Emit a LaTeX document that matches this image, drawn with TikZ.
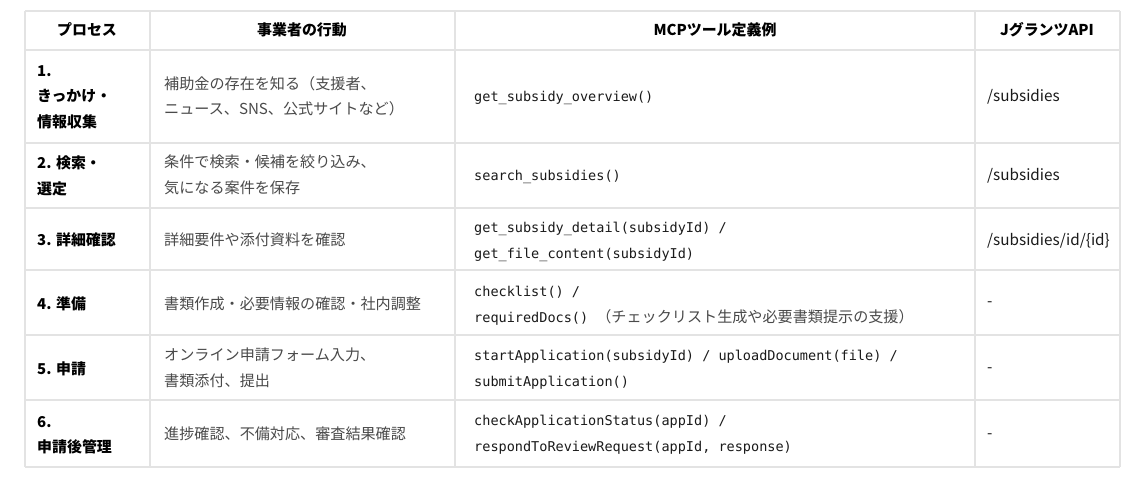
\documentclass[tikz,border=0pt]{standalone}
\usepackage{fontspec}
\setmainfont{Noto Sans CJK JP}
\newfontfamily\codefont{DejaVu Sans Mono}
\definecolor{gridline}{HTML}{E3E3E3}
\definecolor{bodytext}{HTML}{4A4A4A}
\definecolor{codetext}{HTML}{1A1A1A}

\begin{document}
\begin{tikzpicture}[x=0.02cm,y=-0.02cm,
    head cell/.style={font=\fontsize{8.5}{14}\selectfont\bfseries, text=black},
    step cell/.style={anchor=west, align=left, font=\fontsize{8.5}{14.5}\selectfont\bfseries, text=black},
    action cell/.style={anchor=west, align=left, font=\fontsize{8.6}{14.5}\selectfont, text=bodytext},
    code cell/.style={anchor=west, align=left, font=\fontsize{7.7}{15}\selectfont\codefont, text=codetext},
    api cell/.style={anchor=west, align=left, font=\fontsize{8.7}{14}\selectfont, text=codetext}]

    \fill[white] (0,0) rectangle (1148,484);

    % grid
    \foreach \y in {11,50,143,208,270,335,400,467}
        \draw[gridline, line width=0.8pt] (25,\y) -- (1120,\y);
    \foreach \x in {25,150,455,975,1120}
        \draw[gridline, line width=0.8pt] (\x,11) -- (\x,467);

    % header
    \node[head cell] (h1) at (87,30) {プロセス};
    \node[head cell] (h2) at (302,30) {事業者の行動};
    \node[head cell] (h3) at (715,30) {MCPツール定義例};
    \node[head cell] (h4) at (1047,30) {JグランツAPI};

    % steps
    \node[step cell] (s1) at (31,97) {1.\\きっかけ・\\情報収集};
    \node[step cell] (s2) at (31,176) {2. 検索・\\選定};
    \node[step cell] (s3) at (31,240) {3. 詳細確認};
    \node[step cell] (s4) at (31,304) {4. 準備};
    \node[step cell] (s5) at (31,369) {5. 申請};
    \node[step cell] (s6) at (31,435) {6.\\申請後管理};

    % actions
    \node[action cell] (a1) at (158,96) {補助金の存在を知る（支援者、\\ニュース、SNS、公式サイトなど）};
    \node[action cell] (a2) at (158,175) {条件で検索・候補を絞り込み、\\気になる案件を保存};
    \node[action cell] (a3) at (158,240) {詳細要件や添付資料を確認};
    \node[action cell] (a4) at (158,304) {書類作成・必要情報の確認・社内調整};
    \node[action cell] (a5) at (158,368) {オンライン申請フォーム入力、\\書類添付、提出};
    \node[action cell] (a6) at (158,434) {進捗確認、不備対応、審査結果確認};

    % tools
    \node[code cell] (t1) at (468,98) {get\_subsidy\_overview()};
    \node[code cell] (t2) at (468,177) {search\_subsidies()};
    \node[code cell] (t3) at (468,242) {get\_subsidy\_detail(subsidyId) /\\get\_file\_content(subsidyId)};
    \node[code cell] (t4) at (468,306) {checklist() /\\requiredDocs() {\rmfamily\fontsize{8.6}{15}\selectfont\color{bodytext}（チェックリスト生成や必要書類提示の支援）}};
    \node[code cell] (t5) at (468,370) {startApplication(subsidyId) / uploadDocument(file) /\\submitApplication()};
    \node[code cell] (t6) at (468,435) {checkApplicationStatus(appId) /\\respondToReviewRequest(appId, response)};

    % api
    \node[api cell] (p1) at (981,97) {/subsidies};
    \node[api cell] (p2) at (981,176) {/subsidies};
    \node[api cell] (p3) at (981,241) {/subsidies/id/\{id\}};
    \node[api cell] (p4) at (981,304) {-};
    \node[api cell] (p5) at (981,370) {-};
    \node[api cell] (p6) at (981,436) {-};
\end{tikzpicture}
\end{document}
